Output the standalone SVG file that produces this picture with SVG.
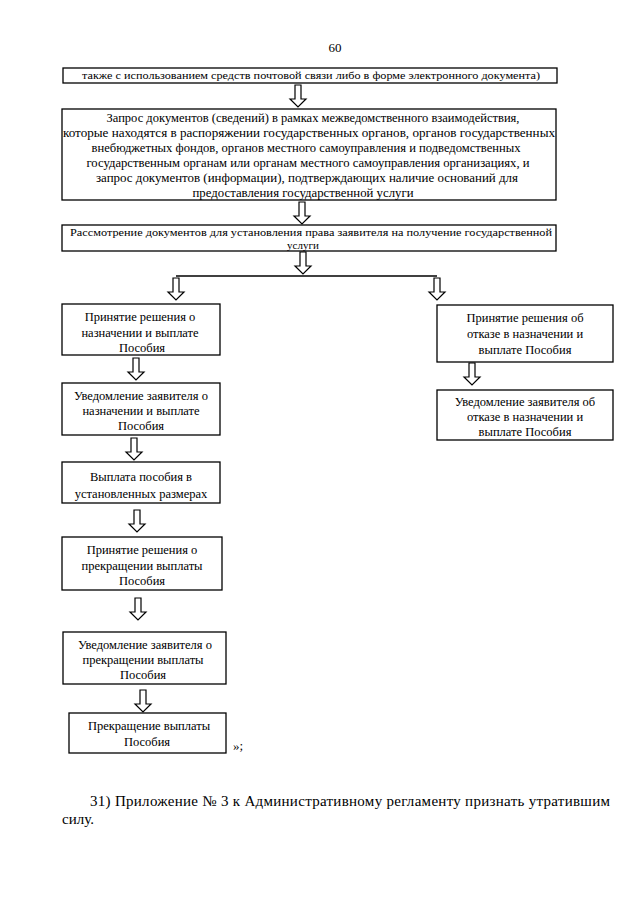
<svg xmlns="http://www.w3.org/2000/svg" width="640" height="905" viewBox="0 0 640 905">
<style>
.b{fill:#fff;stroke:#000;stroke-width:1.3}
.t{font-family:"Liberation Serif","DejaVu Serif",serif;font-size:12.5px;fill:#000;text-anchor:middle}
.s{font-size:11px}
.p{font-family:"Liberation Serif","DejaVu Serif",serif;font-size:15px;fill:#000}
.a{fill:#fff;stroke:#000;stroke-width:1.2}
.l{stroke:#000;stroke-width:1.3;fill:none}
</style>
<defs>
<path id="arr" d="M-3,0 L-3,14 L-8,14 L0,22 L8,14 L3,14 L3,0 Z"/>
</defs>
<rect width="640" height="905" fill="#fff"/>
<text class="p" x="335" y="52" text-anchor="middle" style="font-size:13px">60</text>

<g id="connectors">
<use href="#arr" class="a" transform="translate(298,85)"/>
<use href="#arr" class="a" transform="translate(302,202)"/>
<use href="#arr" class="a" transform="translate(303,252)"/>
<line class="l" x1="176" y1="276" x2="437" y2="276"/>
<use href="#arr" class="a" transform="translate(176,278)"/>
<use href="#arr" class="a" transform="translate(437,278)"/>
<use href="#arr" class="a" transform="translate(136,358)"/>
<use href="#arr" class="a" transform="translate(134,438)"/>
<use href="#arr" class="a" transform="translate(137,510)"/>
<use href="#arr" class="a" transform="translate(138,598)"/>
<use href="#arr" class="a" transform="translate(143,690)"/>
<use href="#arr" class="a" transform="translate(472,363)"/>
</g>

<g id="n1">
<rect class="b" x="63" y="68" width="494" height="15"/>
<text class="t s" x="311" y="79" textLength="458" lengthAdjust="spacingAndGlyphs">также с использованием средств почтовой связи либо в форме электронного документа)</text>
</g>
<g id="n2">
<rect class="b" x="62" y="109" width="494" height="91"/>
<text class="t" x="313" y="122" textLength="413" lengthAdjust="spacingAndGlyphs">Запрос документов (сведений) в рамках межведомственного взаимодействия,</text>
<text class="t" x="309" y="137" textLength="492" lengthAdjust="spacingAndGlyphs">которые находятся в распоряжении государственных органов, органов государственных</text>
<text class="t" x="306" y="152" textLength="429" lengthAdjust="spacingAndGlyphs">внебюджетных фондов, органов местного самоуправления и подведомственных</text>
<text class="t" x="308" y="167" textLength="443" lengthAdjust="spacingAndGlyphs">государственным органам или органам местного самоуправления организациях, и</text>
<text class="t" x="307" y="182" textLength="422" lengthAdjust="spacingAndGlyphs">запрос документов (информации), подтверждающих наличие оснований для</text>
<text class="t" x="303" y="197" textLength="221" lengthAdjust="spacingAndGlyphs">предоставления государственной услуги</text>
</g>
<g id="n3">
<rect class="b" x="62" y="225" width="494" height="26"/>
<text class="t s" x="311" y="236" textLength="482" lengthAdjust="spacingAndGlyphs">Рассмотрение документов для установления права заявителя на получение государственной</text>
<text class="t s" x="303" y="249">услуги</text>
</g>
<g id="n4">
<rect class="b" x="62" y="304" width="158" height="51"/>
<text class="t" x="140" y="321">Принятие решения о</text>
<text class="t" x="140" y="337">назначении и выплате</text>
<text class="t" x="142" y="352">Пособия</text>
</g>
<g id="n5">
<rect class="b" x="62" y="383" width="158" height="52"/>
<text class="t" x="141" y="400">Уведомление заявителя о</text>
<text class="t" x="141" y="415">назначении и выплате</text>
<text class="t" x="141" y="430">Пособия</text>
</g>
<g id="n6">
<rect class="b" x="62" y="462" width="158" height="41"/>
<text class="t" x="141" y="481">Выплата пособия в</text>
<text class="t" x="141" y="498">установленных размерах</text>
</g>
<g id="n7">
<rect class="b" x="62" y="537" width="160" height="53"/>
<text class="t" x="142" y="554">Принятие решения о</text>
<text class="t" x="142" y="570">прекращении выплаты</text>
<text class="t" x="142" y="585">Пособия</text>
</g>
<g id="n8">
<rect class="b" x="63" y="632" width="163" height="52"/>
<text class="t" x="145" y="649">Уведомление заявителя о</text>
<text class="t" x="143" y="664">прекращении выплаты</text>
<text class="t" x="143" y="679">Пособия</text>
</g>
<g id="n9">
<rect class="b" x="69" y="713" width="157" height="40"/>
<text class="t" x="149" y="730">Прекращение выплаты</text>
<text class="t" x="147" y="746">Пособия</text>
</g>
<text class="p" x="233" y="750" style="font-size:13px">»;</text>
<g id="n10">
<rect class="b" x="437" y="305" width="176" height="57"/>
<text class="t" x="525" y="322">Принятие решения об</text>
<text class="t" x="525" y="338">отказе в назначении и</text>
<text class="t" x="525" y="354">выплате Пособия</text>
</g>
<g id="n11">
<rect class="b" x="437" y="390" width="176" height="50"/>
<text class="t" x="525" y="406">Уведомление заявителя об</text>
<text class="t" x="525" y="421">отказе в назначении и</text>
<text class="t" x="525" y="436">выплате Пособия</text>
</g>

<text class="p" x="90" y="806" textLength="520" lengthAdjust="spacing">31) Приложение № 3 к Административному регламенту признать утратившим</text>
<text class="p" x="62" y="824">силу.</text>
</svg>
